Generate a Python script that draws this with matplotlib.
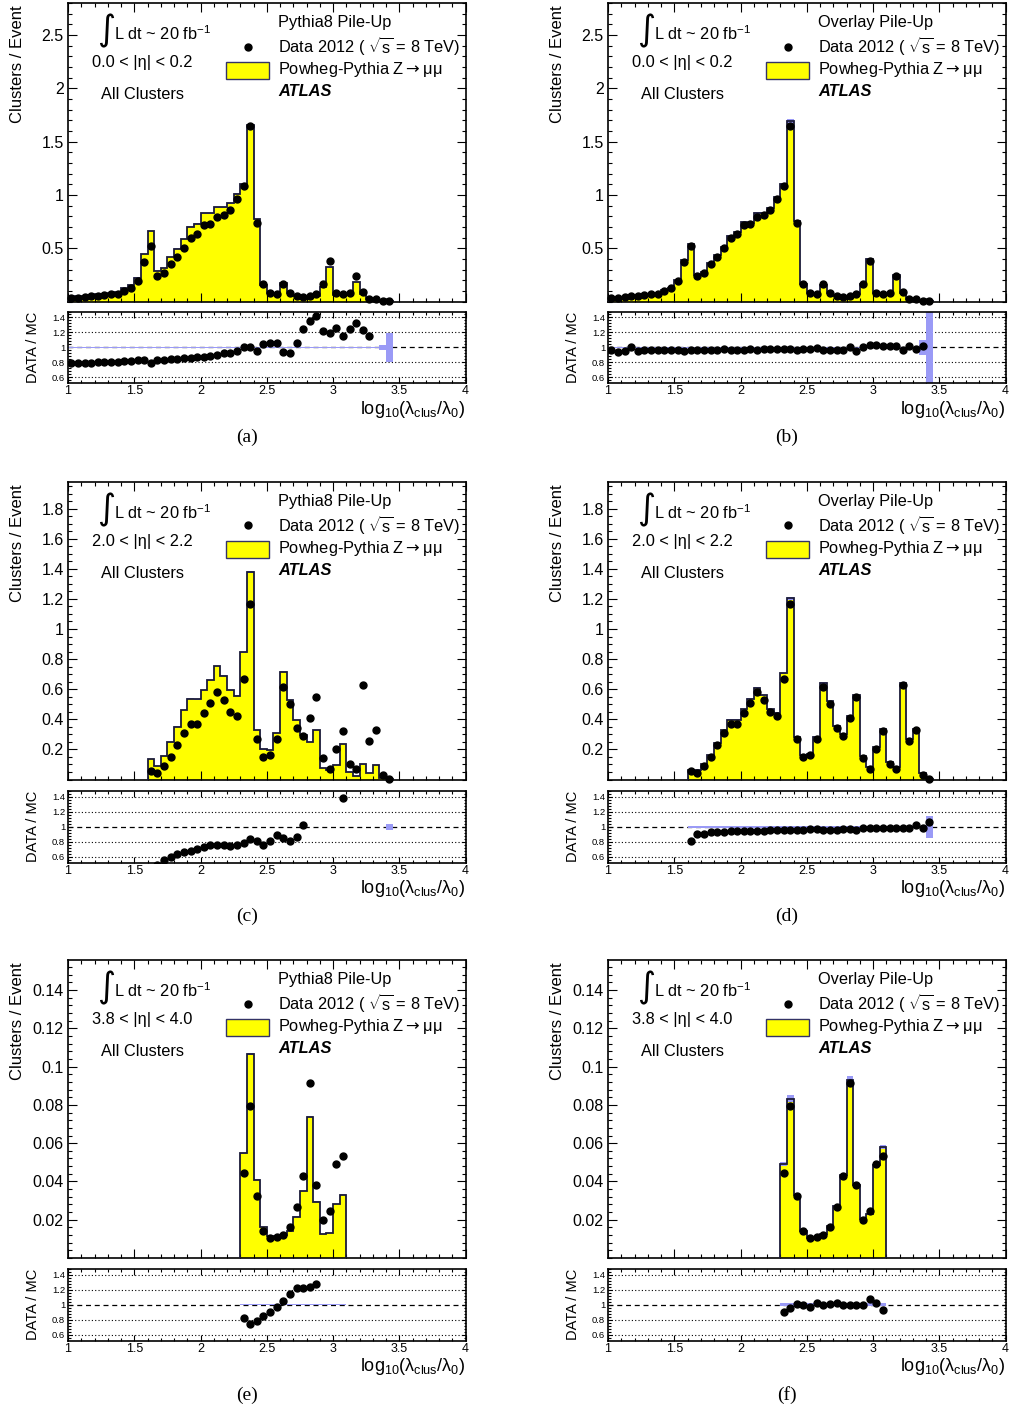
import numpy as np
import matplotlib
matplotlib.use("Agg")
import matplotlib.pyplot as plt
from matplotlib.ticker import MultipleLocator, FixedLocator, FuncFormatter, NullFormatter
from matplotlib.patches import Rectangle

plt.rcParams['font.family'] = ['Liberation Sans', 'DejaVu Sans']
plt.rcParams['mathtext.fontset'] = 'custom'
plt.rcParams['mathtext.rm'] = 'Liberation Sans'
plt.rcParams['mathtext.it'] = 'Liberation Sans:italic'
plt.rcParams['mathtext.bf'] = 'Liberation Sans:bold'

# ---------------- data (bin width 0.05 in log10(lambda_clus/lambda_0)) ----------------
X_MIN, X_MAX, BIN_W = 1.0, 4.0, 0.05

# 0.0 < |eta| < 0.2, bins starting at 1.00
data_eta00 = [0.031, 0.0375, 0.044, 0.047, 0.053, 0.059, 0.066, 0.072, 0.100, 0.128,
              0.190, 0.375, 0.516, 0.240, 0.266, 0.350, 0.420, 0.500, 0.600, 0.630,
              0.720, 0.725, 0.790, 0.810, 0.856, 0.960, 1.080, 1.650, 0.734, 0.160,
              0.084, 0.072, 0.160, 0.078, 0.053, 0.044, 0.053, 0.072, 0.166, 0.384,
              0.078, 0.066, 0.078, 0.240, 0.088, 0.028, 0.022, 0.006, 0.003]
mc_pythia_eta00 = [0.039, 0.047, 0.056, 0.060, 0.066, 0.074, 0.083, 0.090, 0.123, 0.156,
                   0.225, 0.447, 0.660, 0.290, 0.316, 0.416, 0.497, 0.584, 0.703, 0.730,
                   0.828, 0.828, 0.884, 0.884, 0.920, 1.010, 1.100, 1.656, 0.775, 0.156,
                   0.080, 0.068, 0.170, 0.084, 0.050, 0.035, 0.039, 0.051, 0.136, 0.320,
                   0.062, 0.058, 0.063, 0.180, 0.071, 0.024, 0.018, 0.008, 0.003]
mc_overlay_eta00 = [0.032, 0.040, 0.046, 0.047, 0.056, 0.061, 0.069, 0.074, 0.104, 0.130,
                    0.198, 0.392, 0.542, 0.248, 0.275, 0.361, 0.433, 0.511, 0.619, 0.650,
                    0.743, 0.741, 0.826, 0.828, 0.879, 0.982, 1.100, 1.690, 0.757, 0.163,
                    0.080, 0.073, 0.159, 0.080, 0.055, 0.046, 0.055, 0.068, 0.160, 0.400,
                    0.078, 0.064, 0.075, 0.245, 0.083, 0.028, 0.023, 0.006, 0.003]
err_pythia_eta00 = [0.004, 0.004, 0.004, 0.004, 0.004, 0.004, 0.004, 0.004, 0.004, 0.004,
                    0.004, 0.004, 0.004, 0.004, 0.004, 0.004, 0.004, 0.004, 0.004, 0.004,
                    0.004, 0.004, 0.004, 0.004, 0.004, 0.004, 0.004, 0.004, 0.004, 0.004,
                    0.004, 0.004, 0.004, 0.004, 0.004, 0.004, 0.004, 0.004, 0.004, 0.004,
                    0.004, 0.004, 0.004, 0.004, 0.004, 0.004, 0.004, 0.035, 0.19]
err_overlay_eta00 = [0.012, 0.012, 0.012, 0.012, 0.012, 0.012, 0.012, 0.012, 0.012, 0.012,
                     0.012, 0.012, 0.012, 0.012, 0.012, 0.012, 0.012, 0.012, 0.012, 0.012,
                     0.012, 0.012, 0.012, 0.012, 0.012, 0.012, 0.012, 0.012, 0.012, 0.012,
                     0.012, 0.012, 0.012, 0.012, 0.012, 0.012, 0.012, 0.012, 0.012, 0.012,
                     0.012, 0.012, 0.012, 0.012, 0.012, 0.012, 0.012, 0.10, 0.90]
ratio_pythia_eta00 = [0.79, 0.79, 0.79, 0.79, 0.80, 0.80, 0.80, 0.80, 0.813, 0.813,
                      0.836, 0.836, 0.79, 0.827, 0.831, 0.84, 0.85, 0.853, 0.858, 0.867,
                      0.871, 0.88, 0.90, 0.92, 0.924, 0.955, 1.0, 1.0, 0.947, 1.044,
                      1.058, 1.058, 0.933, 0.925, 1.058, 1.244, 1.356, 1.42, 1.22, 1.19,
                      1.253, 1.147, 1.244, 1.333, 1.236, 1.147]
ratio_overlay_eta00 = [0.969, 0.933, 0.947, 1.0, 0.947, 0.96, 0.96, 0.969, 0.96, 0.96,
                       0.96, 0.956, 0.96, 0.969, 0.969, 0.969, 0.969, 0.978, 0.969, 0.969,
                       0.969, 0.978, 0.969, 0.978, 0.978, 0.978, 0.982, 0.978, 0.969, 0.982,
                       0.978, 0.987, 0.96, 0.969, 0.969, 0.96, 1.0, 0.947, 1.0, 1.036,
                       1.036, 1.013, 1.013, 1.013, 0.969, 1.013, 0.982, 1.013]

# 2.0 < |eta| < 2.2, bins starting at 1.60
data_eta20 = [0.057, 0.045, 0.090, 0.152, 0.227, 0.307, 0.370, 0.370, 0.444, 0.506,
              0.580, 0.525, 0.450, 0.420, 0.670, 1.164, 0.270, 0.152, 0.160, 0.270,
              0.617, 0.504, 0.342, 0.290, 0.410, 0.548, 0.140, 0.070, 0.200, 0.324,
              0.105, 0.070, 0.630, 0.256, 0.330, 0.030, 0.003]
mc_pythia_eta20 = [0.134, 0.090, 0.156, 0.247, 0.351, 0.462, 0.537, 0.533, 0.595, 0.661,
                   0.754, 0.690, 0.595, 0.557, 0.847, 1.379, 0.329, 0.200, 0.194, 0.307,
                   0.716, 0.528, 0.396, 0.296, 0.251, 0.329, 0.074, 0.063, 0.096, 0.234,
                   0.052, 0.023, 0.100, 0.045, 0.096, 0.008, 0.003]
mc_overlay_eta20 = [0.063, 0.060, 0.100, 0.160, 0.244, 0.329, 0.396, 0.396, 0.467, 0.537,
                    0.610, 0.560, 0.467, 0.444, 0.705, 1.203, 0.280, 0.160, 0.170, 0.285,
                    0.640, 0.520, 0.355, 0.302, 0.422, 0.560, 0.156, 0.085, 0.213, 0.337,
                    0.116, 0.085, 0.643, 0.267, 0.337, 0.040, 0.003]
err_pythia_eta20 = [0.004, 0.004, 0.004, 0.004, 0.004, 0.004, 0.004, 0.004, 0.004, 0.004,
                    0.004, 0.004, 0.004, 0.004, 0.004, 0.004, 0.004, 0.004, 0.004, 0.004,
                    0.004, 0.004, 0.004, 0.004, 0.004, 0.004, 0.004, 0.004, 0.004, 0.004,
                    0.004, 0.004, 0.004, 0.004, 0.004, 0.004, 0.04]
err_overlay_eta20 = [0.008, 0.008, 0.008, 0.008, 0.008, 0.008, 0.008, 0.008, 0.008, 0.008,
                     0.008, 0.008, 0.008, 0.008, 0.008, 0.008, 0.008, 0.008, 0.008, 0.008,
                     0.008, 0.008, 0.008, 0.008, 0.008, 0.008, 0.008, 0.008, 0.008, 0.008,
                     0.008, 0.008, 0.008, 0.008, 0.008, 0.008, 0.15]
ratio_pythia_eta20 = [0.498, 0.553, 0.603, 0.639, 0.662, 0.685, 0.703, 0.735, 0.763, 0.763,
                      0.753, 0.749, 0.753, 0.785, 0.836, 0.808, 0.763, 0.808, 0.886, 0.854,
                      0.808, 0.863, 1.023, np.nan, np.nan, np.nan, np.nan, np.nan, 1.388]
ratio_overlay_eta20 = [0.817, 0.90, 0.90, 0.936, 0.927, 0.936, 0.94, 0.945, 0.945, 0.945,
                       0.945, 0.95, 0.954, 0.954, 0.954, 0.96, 0.96, 0.965, 0.97, 0.968,
                       0.965, 0.963, 0.963, 0.968, 0.968, 0.954, 0.982, 0.99, 0.982, 0.99,
                       0.99, 0.982, 0.982, 0.99, 1.023, 0.99, 1.07]

# 3.8 < |eta| < 4.0, bins starting at 2.30
data_eta38 = [0.0446, 0.0795, 0.0323, 0.0140, 0.0103, 0.0108, 0.0122, 0.0162, 0.0265, 0.0429,
              0.0915, 0.0380, 0.0197, 0.0248, 0.0493, 0.0534]
mc_pythia_eta38 = [0.0546, 0.1065, 0.0410, 0.0162, 0.0115, 0.0115, 0.0122, 0.0140, 0.0216, 0.0349,
                   0.0739, 0.0295, 0.0124, 0.0131, 0.0282, 0.0331]
mc_overlay_eta38 = [0.0493, 0.0833, 0.0328, 0.0143, 0.0105, 0.0110, 0.0127, 0.0166, 0.0272, 0.0432,
                    0.0930, 0.0384, 0.0206, 0.0228, 0.0488, 0.0580]
err_pythia_eta38 = [0.004, 0.004, 0.004, 0.004, 0.004, 0.004, 0.004, 0.004, 0.004, 0.004,
                    0.004, 0.004, 0.004, 0.004, 0.004, 0.004]
err_overlay_eta38 = [0.02, 0.02, 0.02, 0.02, 0.02, 0.02, 0.02, 0.02, 0.02, 0.02,
                     0.02, 0.02, 0.02, 0.02, 0.02, 0.02]
ratio_pythia_eta38 = [0.822, 0.747, 0.782, 0.849, 0.902, 0.969, 1.044, 1.147, 1.222, 1.227,
                      1.236, 1.276]
ratio_overlay_eta38 = [0.902, 0.956, 1.013, 1.0, 0.969, 1.022, 0.991, 1.004, 1.027, 1.0,
                       0.991, 1.0, 1.0, 1.08, 1.027, 0.924]

pileup_labels = ["Pythia8 Pile-Up", "Overlay Pile-Up"]
eta_labels = ["0.0 < |η| < 0.2", "2.0 < |η| < 2.2", "3.8 < |η| < 4.0"]
captions = ["(a)", "(b)", "(c)", "(d)", "(e)", "(f)"]
main_yticks = [[0.5, 1, 1.5, 2, 2.5],
               [0.2, 0.4, 0.6, 0.8, 1.0, 1.2, 1.4, 1.6, 1.8],
               [0.02, 0.04, 0.06, 0.08, 0.10, 0.12, 0.14]]
ratio_yticks = [0.6, 0.8, 1.0, 1.2, 1.4]

# ---------------- styling / layout ----------------
W, H = 1011, 1412
YELLOW = '#ffff00'
EDGE = '#1a1a38'
BAND = '#9a9af6'

fig = plt.figure(figsize=(W / 100, H / 100), dpi=100)

def fx(px):
    return px / W

def fy(py):
    return 1 - py / H

col_left = [68, 608]
ax_w = 397.5
rows_main = [(3, 301.5), (482, 779.5), (960, 1258)]
rows_ratio = [(311.5, 383), (791, 862.5), (1268.5, 1340.5)]
main_ymax = [2.80, 1.977, 0.1557]
main_yminor = [0.1, 0.05, 0.004]
first_edges = [1.00, 1.60, 2.30]
caption_x = [247, 787]
caption_y = [437, 916, 1395]

panels = [
    # row, col, data, mc, err, ratio, ratio_first_edge
    (0, 0, data_eta00, mc_pythia_eta00, err_pythia_eta00, ratio_pythia_eta00, 1.00),
    (0, 1, data_eta00, mc_overlay_eta00, err_overlay_eta00, ratio_overlay_eta00, 1.00),
    (1, 0, data_eta20, mc_pythia_eta20, err_pythia_eta20, ratio_pythia_eta20, 1.65),
    (1, 1, data_eta20, mc_overlay_eta20, err_overlay_eta20, ratio_overlay_eta20, 1.60),
    (2, 0, data_eta38, mc_pythia_eta38, err_pythia_eta38, ratio_pythia_eta38, 2.30),
    (2, 1, data_eta38, mc_overlay_eta38, err_overlay_eta38, ratio_overlay_eta38, 2.30),
]

fmt = FuncFormatter(lambda v, p: f"{v:g}")

for k, (row, col, data, mc, err, ratio, r_first) in enumerate(panels):
    x0 = col_left[col]
    mt, mb = rows_main[row]
    rt, rb = rows_ratio[row]
    ax = fig.add_axes([fx(x0), fy(mb), ax_w / W, (mb - mt) / H])
    axr = fig.add_axes([fx(x0), fy(rb), ax_w / W, (rb - rt) / H])

    mc = np.array(mc, dtype=float)
    err = np.array(err, dtype=float)
    data = np.array(data, dtype=float)
    n = len(mc)
    i0 = int(round((first_edges[row] - X_MIN) / BIN_W))
    edges = X_MIN + BIN_W * np.arange(i0, i0 + n + 1)
    dcent = X_MIN + BIN_W * (np.arange(i0, i0 + len(data)) + 0.5)

    # ---- main histogram ----
    ax.stairs(mc, edges, fill=True, color=YELLOW, lw=0, zorder=1)
    ax.stairs(mc * (1 + err), edges, baseline=mc * (1 - err), fill=True,
              color=BAND, lw=0, zorder=2)
    ax.stairs(mc, edges, baseline=0, color=EDGE, lw=1.3, zorder=3)
    ax.plot(dcent, data, 'o', color='black', ms=5.0, zorder=4, clip_on=False)
    ax.set_xlim(X_MIN, X_MAX)
    ax.set_ylim(0, main_ymax[row])

    ax.xaxis.set_major_locator(MultipleLocator(0.5))
    ax.xaxis.set_minor_locator(MultipleLocator(0.1))
    ax.xaxis.set_major_formatter(NullFormatter())
    ax.yaxis.set_major_locator(FixedLocator(main_yticks[row]))
    ax.yaxis.set_minor_locator(MultipleLocator(main_yminor[row]))
    ax.yaxis.set_major_formatter(fmt)
    ax.tick_params(which='both', direction='in', top=True, right=True, width=0.8)
    ax.tick_params(which='major', length=6.5, labelsize=11.5, pad=3)
    ax.tick_params(which='minor', length=3.2)
    for s in ax.spines.values():
        s.set_linewidth(1.2)

    # ---- texts in main pad ----
    ax.text(0.096, 0.905, "∫", transform=ax.transAxes, fontsize=25,
            family=['DejaVu Sans'], ha='center', va='center')
    ax.text(0.116, 0.898, r"L dt ~ 20 fb$^{-1}$", transform=ax.transAxes,
            fontsize=11.8, ha='left', va='center')
    ax.text(0.06, 0.801, eta_labels[row], transform=ax.transAxes,
            fontsize=11.8, ha='left', va='center')
    ax.text(0.082, 0.694, "All Clusters", transform=ax.transAxes,
            fontsize=11.8, ha='left', va='center')
    ax.text(0.529, 0.934, pileup_labels[col], transform=ax.transAxes,
            fontsize=11.8, ha='left', va='center')
    ax.plot([0.4526], [0.854], 'o', color='black', ms=5.0, transform=ax.transAxes,
            clip_on=False)
    ax.text(0.529, 0.854, r"Data 2012 ( $\sqrt{\mathrm{s}}$ = 8 TeV)", transform=ax.transAxes,
            fontsize=11.8, ha='left', va='center')
    ax.add_patch(Rectangle((0.397, 0.745), 0.109, 0.058, transform=ax.transAxes,
                           facecolor=YELLOW, edgecolor='#333366', lw=1.0, zorder=5))
    ax.text(0.529, 0.776, r"Powheg-Pythia Z$\rightarrow$μμ", transform=ax.transAxes,
            fontsize=11.8, ha='left', va='center', math_fontfamily='dejavusans')
    ax.text(0.529, 0.703, "ATLAS", transform=ax.transAxes, fontsize=11.8,
            fontweight='bold', fontstyle='italic', ha='left', va='center')

    # ---- ratio pad ----
    r = np.array(ratio, dtype=float)
    ri0 = int(round((r_first - X_MIN) / BIN_W))
    rcent = X_MIN + BIN_W * (np.arange(ri0, ri0 + len(r)) + 0.5)
    for v in [0.6, 0.8, 1.2, 1.4]:
        axr.axhline(v, color='black', ls=(0, (1, 2)), lw=0.8, zorder=1)
    axr.axhline(1.0, color='black', ls=(0, (4, 3)), lw=0.9, zorder=1)
    axr.stairs(1 + err, edges, baseline=1 - err, fill=True, color=BAND, lw=0, zorder=2)
    axr.plot(rcent, r, 'o', color='black', ms=5.0, zorder=4)
    axr.set_xlim(X_MIN, X_MAX)
    axr.set_ylim(0.525, 1.48)
    axr.xaxis.set_major_locator(MultipleLocator(0.5))
    axr.xaxis.set_minor_locator(MultipleLocator(0.1))
    axr.xaxis.set_major_formatter(fmt)
    axr.yaxis.set_major_locator(FixedLocator(ratio_yticks))
    axr.yaxis.set_minor_locator(MultipleLocator(0.04))
    axr.yaxis.set_major_formatter(fmt)
    axr.tick_params(which='both', direction='in', top=True, right=True, width=0.8)
    axr.tick_params(axis='x', which='major', length=4.5, labelsize=9, pad=1.5)
    axr.tick_params(axis='x', which='minor', length=2.3)
    axr.tick_params(axis='y', which='major', length=3.2, labelsize=6.8, pad=2)
    axr.tick_params(axis='y', which='minor', length=1.8)
    for s in axr.spines.values():
        s.set_linewidth(1.2)

    # ---- axis titles & caption ----
    fig.text(fx(x0 - 50), fy(mt + 2), "Clusters / Event", rotation=90,
             fontsize=12, ha='center', va='top')
    fig.text(fx(x0 - 35), fy((rt + rb) / 2), "DATA / MC", rotation=90,
             fontsize=10.5, ha='center', va='center')
    fig.text(fx(x0 + ax_w), fy(rb + 26),
             r"log$_{10}$(λ$_{\mathrm{clus}}$/λ$_{0}$)",
             fontsize=13, ha='right', va='center')
    fig.text(fx(caption_x[col]), fy(caption_y[row]), captions[k],
             fontsize=14, family=['Liberation Serif', 'DejaVu Serif'],
             ha='center', va='center')

fig.savefig("out.png", dpi=100, facecolor='white')
